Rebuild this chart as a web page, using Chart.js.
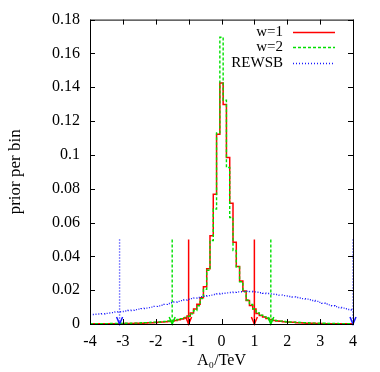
<!DOCTYPE html>
<html>
<head>
<meta charset="utf-8">
<script src="https://cdn.jsdelivr.net/npm/chart.js@4"></script>
<style>
  html, body { margin: 0; padding: 0; background: #fff; }
  #wrap { width: 380px; height: 372px; }
</style>
</head>
<body>
<div id="wrap"><canvas id="chart" width="380" height="372"></canvas></div>
<script>
// bin centres, TeV
var binCenters = [
    -4.0, -3.9, -3.8, -3.7, -3.6, -3.5, -3.4, -3.3, -3.2, -3.1,
    -3.0, -2.9, -2.8, -2.7, -2.6, -2.5, -2.4, -2.3, -2.2, -2.1,
    -2.0, -1.9, -1.8, -1.7, -1.6, -1.5, -1.4, -1.3, -1.2, -1.1,
    -1.0, -0.9, -0.8, -0.7, -0.6, -0.5, -0.4, -0.3, -0.2, -0.1,
    0.0,
    0.1, 0.2, 0.3, 0.4, 0.5, 0.6, 0.7, 0.8, 0.9, 1.0,
    1.1, 1.2, 1.3, 1.4, 1.5, 1.6, 1.7, 1.8, 1.9, 2.0,
    2.1, 2.2, 2.3, 2.4, 2.5, 2.6, 2.7, 2.8, 2.9, 3.0,
    3.1, 3.2, 3.3, 3.4, 3.5, 3.6, 3.7, 3.8, 3.9, 4.0
];

var w1Prior = [
    0.0001, 0.0001, 0.0001, 0.0001, 0.0001, 0.0001, 0.0001, 0.0002, 0.0002, 0.0002,
    0.0002, 0.0003, 0.0003, 0.0003, 0.0004, 0.0004, 0.0005, 0.0006, 0.0007, 0.0008,
    0.0009, 0.0010, 0.0012, 0.0013, 0.0015, 0.0017, 0.0020, 0.0025, 0.0030, 0.0036,
    0.0047, 0.0065, 0.0088, 0.0117, 0.0155, 0.0220, 0.0326, 0.0522, 0.0767, 0.1122,
    0.1425,
    0.1298, 0.0984, 0.0714, 0.0484, 0.0340, 0.0255, 0.0195, 0.0139, 0.0110, 0.0088,
    0.0062, 0.0050, 0.0041, 0.0032, 0.0026, 0.0021, 0.0018, 0.0016, 0.0013, 0.0012,
    0.0011, 0.0010, 0.0008, 0.0007, 0.0006, 0.0005, 0.0004, 0.0004, 0.0003, 0.0003,
    0.0002, 0.0002, 0.0002, 0.0002, 0.0001, 0.0001, 0.0001, 0.0001, 0.0001, 0.0001
];

var w2Prior = [
    0.0002, 0.0002, 0.0002, 0.0002, 0.0002, 0.0002, 0.0003, 0.0003, 0.0003, 0.0003,
    0.0004, 0.0004, 0.0004, 0.0005, 0.0005, 0.0006, 0.0007, 0.0008, 0.0009, 0.0010,
    0.0011, 0.0012, 0.0014, 0.0015, 0.0018, 0.0020, 0.0023, 0.0027, 0.0032, 0.0038,
    0.0046, 0.0060, 0.0080, 0.0108, 0.0150, 0.0205, 0.0318, 0.0494, 0.0680, 0.1130,
    0.1696,
    0.1323, 0.0925, 0.0630, 0.0435, 0.0337, 0.0250, 0.0190, 0.0142, 0.0115, 0.0090,
    0.0066, 0.0052, 0.0042, 0.0034, 0.0028, 0.0023, 0.0020, 0.0017, 0.0015, 0.0013,
    0.0012, 0.0011, 0.0010, 0.0009, 0.0008, 0.0007, 0.0006, 0.0005, 0.0005, 0.0004,
    0.0004, 0.0003, 0.0003, 0.0003, 0.0003, 0.0002, 0.0002, 0.0002, 0.0002, 0.0002
];

var rewsbPrior = [
    0.0055, 0.0056, 0.0058, 0.0059, 0.0061, 0.0063, 0.0065, 0.0067, 0.0070, 0.0072,
    0.0074, 0.0077, 0.0080, 0.0082, 0.0085, 0.0088, 0.0091, 0.0094, 0.0097, 0.0100,
    0.0104, 0.0107, 0.0111, 0.0116, 0.0121, 0.0126, 0.0130, 0.0134, 0.0138, 0.0142,
    0.0146, 0.0150, 0.0153, 0.0157, 0.0161, 0.0164, 0.0168, 0.0171, 0.0174, 0.0177,
    0.0180,
    0.0182, 0.0184, 0.0186, 0.0188, 0.0190, 0.0191, 0.0193, 0.0194, 0.0192, 0.0190,
    0.0188, 0.0185, 0.0182, 0.0180, 0.0178, 0.0176, 0.0174, 0.0171, 0.0168, 0.0166,
    0.0163, 0.0160, 0.0157, 0.0154, 0.0150, 0.0147, 0.0143, 0.0139, 0.0134, 0.0128,
    0.0123, 0.0118, 0.0113, 0.0108, 0.0103, 0.0098, 0.0094, 0.0090, 0.0086, 0.0083
];

// 95% limits drawn as arrows
var w1Limits = [-1.0, 1.0];
var w2Limits = [-1.5, 1.5];
var rewsbLimits = [-3.1, 4.0];
var limitHeight = 0.05;

var seriesLabels = ['w=1', 'w=2', 'REWSB'];
var xTickValues = [-4, -3, -2, -1, 0, 1, 2, 3, 4];
var yTickValues = [0, 0.02, 0.04, 0.06, 0.08, 0.1, 0.12, 0.14, 0.16, 0.18];

var FONT = '"Liberation Serif", "Times New Roman", serif';
var styles = [
    { color: '#ff0000', dash: [], width: 1.5 },
    { color: '#00e000', dash: [3, 2], width: 1.4 },
    { color: '#1a1aff', dash: [1, 2], width: 1.4 }
];

function histData(values) {
    return binCenters.map(function (x, i) {
        return { x: x, y: values[i] };
    });
}

function limitSets(limits, style, order) {
    return limits.map(function (x) {
        return {
            data: [{ x: x, y: limitHeight }, { x: x, y: 0 }],
            borderColor: style.color,
            borderDash: style.dash,
            borderWidth: style.width,
            pointRadius: 0,
            order: order,
            arrowHead: true
        };
    });
}

var datasets = [
    { label: seriesLabels[0], data: histData(w1Prior), order: 3 },
    { label: seriesLabels[1], data: histData(w2Prior), order: 2 },
    { label: seriesLabels[2], data: histData(rewsbPrior), order: 1 }
].map(function (ds, i) {
    ds.borderColor = styles[i].color;
    ds.borderDash = styles[i].dash;
    ds.borderWidth = styles[i].width;
    ds.stepped = 'middle';
    ds.pointRadius = 0;
    ds.fill = false;
    return ds;
});
datasets = datasets
    .concat(limitSets(w1Limits, styles[0], 3))
    .concat(limitSets(w2Limits, styles[1], 2))
    .concat(limitSets(rewsbLimits, styles[2], 1));

var gnuplotLook = {
    id: 'gnuplotLook',
    afterDatasetsDraw: function (chart) {
        var ctx = chart.ctx;
        chart.data.datasets.forEach(function (ds, i) {
            if (!ds.arrowHead) {
                return;
            }
            var p = chart.getDatasetMeta(i).data[1];
            ctx.save();
            ctx.strokeStyle = ds.borderColor;
            ctx.lineWidth = 1.5;
            ctx.beginPath();
            ctx.moveTo(p.x - 3, p.y - 7);
            ctx.lineTo(p.x, p.y);
            ctx.lineTo(p.x + 3, p.y - 7);
            ctx.stroke();
            ctx.restore();
        });
    },
    afterDraw: function (chart) {
        var ctx = chart.ctx;
        var a = chart.chartArea;
        var xs = chart.scales.x, ys = chart.scales.y;
        ctx.save();
        ctx.strokeStyle = '#000';
        ctx.lineWidth = 1;
        ctx.strokeRect(a.left + 0.5, a.top + 0.5, a.right - a.left, a.bottom - a.top);
        ctx.beginPath();
        xTickValues.forEach(function (v) {
            var px = Math.round(xs.getPixelForValue(v)) + 0.5;
            ctx.moveTo(px, a.bottom); ctx.lineTo(px, a.bottom - 5);
            ctx.moveTo(px, a.top); ctx.lineTo(px, a.top + 5);
        });
        yTickValues.forEach(function (v) {
            var py = Math.round(ys.getPixelForValue(v)) + 0.5;
            ctx.moveTo(a.left, py); ctx.lineTo(a.left + 5, py);
            ctx.moveTo(a.right, py); ctx.lineTo(a.right - 5, py);
        });
        ctx.stroke();

        // key, top right inside the frame
        ctx.font = '15px ' + FONT;
        ctx.textAlign = 'right';
        ctx.textBaseline = 'middle';
        seriesLabels.forEach(function (label, i) {
            var y = a.top + 12 + i * 15.5;
            ctx.fillStyle = '#000';
            ctx.fillText(label, a.right - 70, y);
            ctx.strokeStyle = styles[i].color;
            ctx.lineWidth = styles[i].width;
            ctx.setLineDash(styles[i].dash);
            ctx.beginPath();
            ctx.moveTo(a.right - 60, Math.round(y) + 0.5);
            ctx.lineTo(a.right - 18, Math.round(y) + 0.5);
            ctx.stroke();
            ctx.setLineDash([]);
        });
        ctx.restore();
    }
};

new Chart(document.getElementById('chart'), {
    type: 'line',
    data: { datasets: datasets },
    options: {
        responsive: false,
        animation: false,
        layout: { padding: { left: 0, top: 18, right: 27, bottom: 0 } },
        plugins: {
            legend: { display: false },
            tooltip: { enabled: false }
        },
        scales: {
            x: {
                type: 'linear',
                min: -4,
                max: 4,
                grid: { display: false, drawTicks: false },
                border: { display: false },
                afterBuildTicks: function (scale) {
                    scale.ticks = xTickValues.map(function (v) { return { value: v }; });
                },
                afterFit: function (scale) { scale.height = 48; },
                ticks: {
                    color: '#000',
                    padding: 8,
                    maxRotation: 0,
                    font: { family: FONT, size: 16 },
                    callback: function (v) { return String(v); }
                },
                title: {
                    display: true,
                    text: 'A₀/TeV',
                    color: '#000',
                    font: { family: FONT, size: 16 },
                    padding: { top: 0, bottom: 2 }
                }
            },
            y: {
                type: 'linear',
                min: 0,
                max: 0.18,
                grid: { display: false, drawTicks: false },
                border: { display: false },
                afterBuildTicks: function (scale) {
                    scale.ticks = yTickValues.map(function (v) { return { value: v }; });
                },
                afterFit: function (scale) { scale.width = 90; },
                ticks: {
                    color: '#000',
                    padding: 10,
                    font: { family: FONT, size: 16 },
                    callback: function (v) { return String(v); }
                },
                title: {
                    display: true,
                    text: 'prior per bin',
                    color: '#000',
                    font: { family: FONT, size: 17 },
                    padding: { top: 5, bottom: 0 }
                }
            }
        }
    },
    plugins: [gnuplotLook]
});
</script>
</body>
</html>
